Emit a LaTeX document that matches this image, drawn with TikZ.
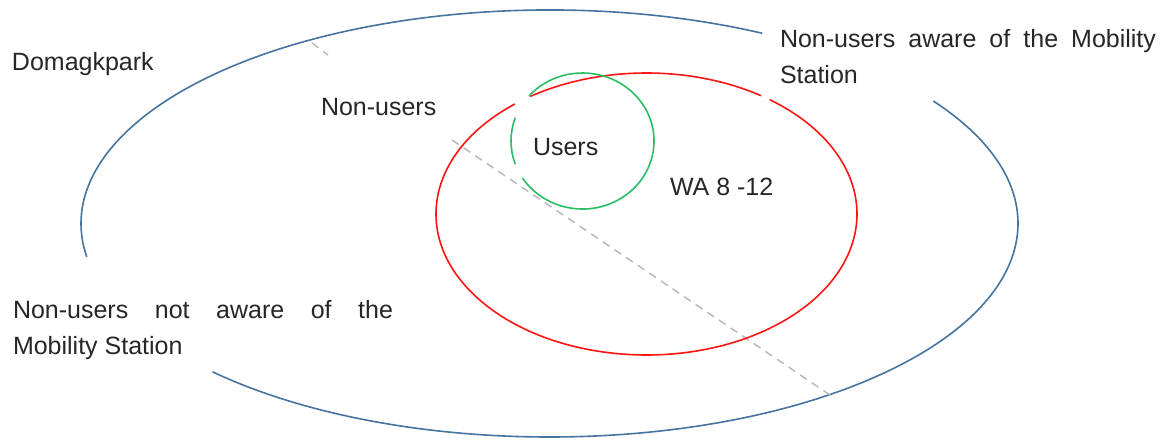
\documentclass[tikz,border=0pt]{standalone}
\usepackage{fontspec}
\setmainfont{Liberation Sans}
\definecolor{bl}{RGB}{70,115,160}
\definecolor{rd}{RGB}{255,20,20}
\definecolor{gr}{RGB}{40,190,100}
\definecolor{dg}{RGB}{185,185,185}
\tikzset{
  lbl/.style={anchor=base west,inner sep=0pt,outer sep=0pt,font=\fontsize{25}{30}\selectfont,text=black!85},
  ring/.style={line width=1.6pt},
  dline/.style={draw=dg,line width=1.5pt,dash pattern=on 8pt off 6pt}
}
\begin{document}
\begin{tikzpicture}[x=1pt,y=1pt]
\useasboundingbox (0,0) rectangle (1167,-439);
% blue outer ellipse
\coordinate (bc) at (549.5,-223.5);
\draw[ring,bl] (bc) ++(63:468.5 and 213.5) arc[start angle=63,end angle=189,x radius=468.5,y radius=213.5];
\draw[ring,bl] (bc) ++(224:468.5 and 213.5) arc[start angle=224,end angle=395,x radius=468.5,y radius=213.5];
% dashed divider
\coordinate (d1) at (312,-43);
\coordinate (d2) at (328,-55);
\coordinate (d3) at (452,-140);
\coordinate (d4) at (830,-395);
\draw[dline] (d1) -- (d2);
\draw[dline] (d3) -- (d4);
% red ellipse
\coordinate (rc) at (646.5,-214);
\draw[ring,rd] (rc) ++(128.7:210.5 and 141) arc[start angle=128.7,end angle=414.2,x radius=210.5,y radius=141];
\draw[ring,rd] (rc) ++(57:210.5 and 141) arc[start angle=57,end angle=123.5,x radius=210.5,y radius=141];
% green circle
\coordinate (gc) at (582.5,-141);
\draw[ring,gr] (gc) ++(160:71.5 and 68) arc[start angle=160,end angle=200,x radius=71.5,y radius=68];
\draw[ring,gr] (gc) ++(213:71.5 and 68) arc[start angle=213,end angle=498.5,x radius=71.5,y radius=68];
% labels
\node[lbl] (dom) at (12,-70) {Domagkpark};
\node[lbl] (nu) at (321,-115) {Non-users};
\node[lbl] (us) at (533,-155) {Users};
\node[lbl] (wa) at (670,-195) {WA 8 -12};
\node[lbl] (aw1) at (780,-47.5) {\makebox[376pt][s]{Non-users aware of the Mobility}};
\node[lbl] (aw2) at (780,-83.5) {Station};
\node[lbl] (na1) at (13,-318) {\makebox[380pt][s]{Non-users not aware of the}};
\node[lbl] (na2) at (13,-354) {Mobility Station};
\end{tikzpicture}
\end{document}
